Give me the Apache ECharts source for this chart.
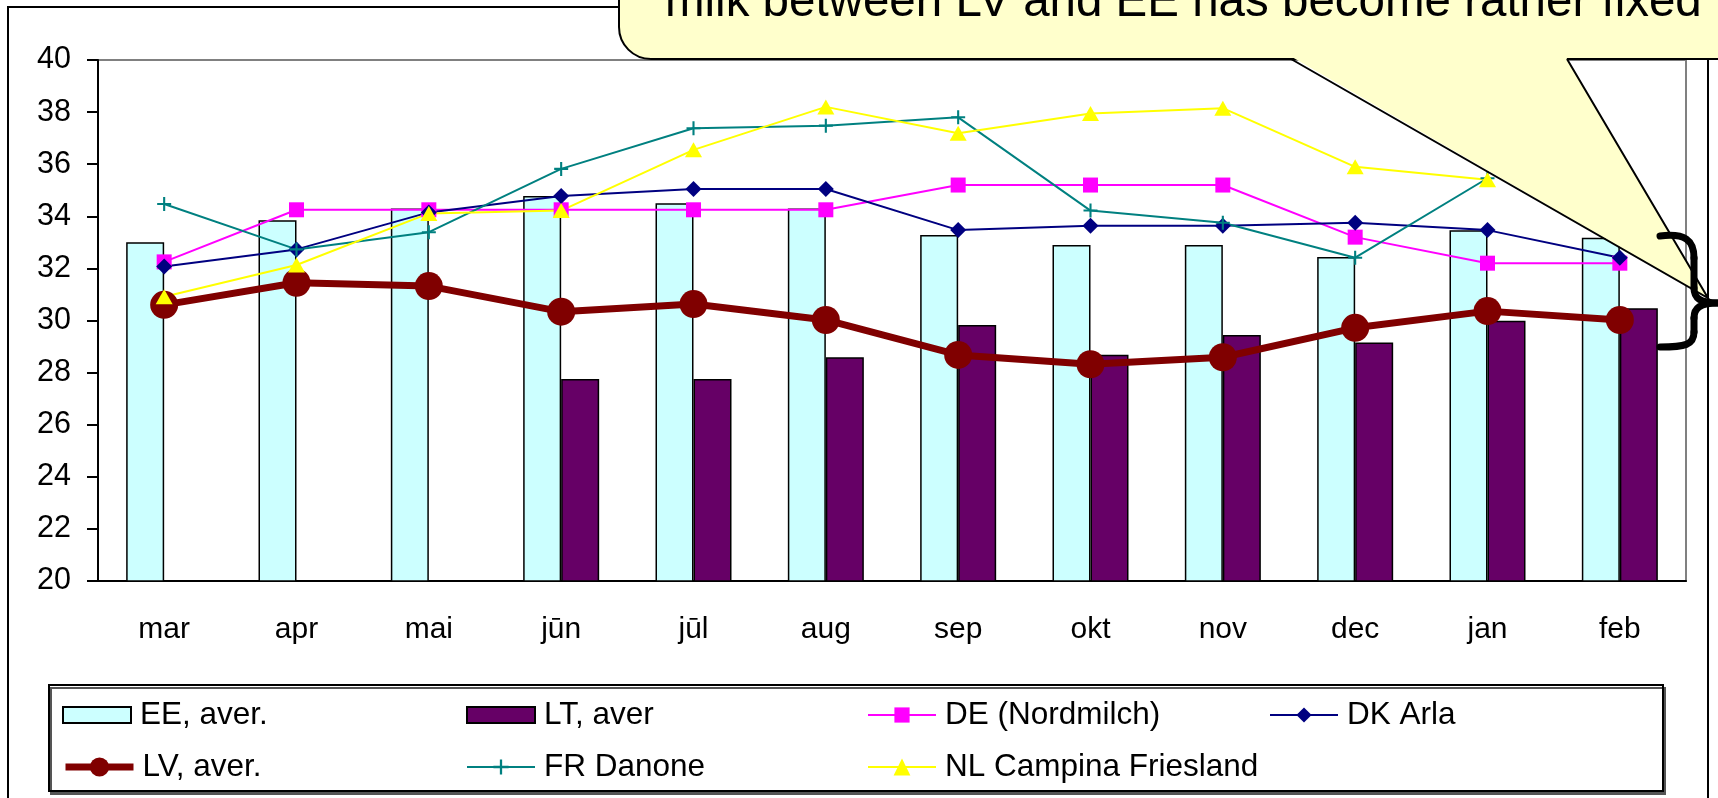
<!DOCTYPE html>
<html>
<head>
<meta charset="utf-8">
<style>
  html, body { margin: 0; padding: 0; background: #fff; }
  #chart { width: 1718px; height: 798px; }
</style>
<script src="https://cdn.jsdelivr.net/npm/echarts/dist/echarts.min.js"></script>
</head>
<body>
<div id="chart"></div>
<script>
// months on the x axis
const months = ['mar', 'apr', 'mai', 'jūn', 'jūl', 'aug', 'sep', 'okt', 'nov', 'dec', 'jan', 'feb'];

// bars
const eeAver = [33.0, 33.85, 34.3, 34.78, 34.5, 34.3, 33.28, 32.9, 32.9, 32.44, 33.46, 33.18];
const ltAver = [null, null, null, 27.75, 27.75, 28.59, 29.83, 28.69, 29.44, 29.16, 29.99, 30.47];

// lines
const deNordmilch = [32.25, 34.25, 34.25, 34.25, 34.25, 34.25, 35.2, 35.2, 35.2, 33.2, 32.2, 32.2];
const dkArla = [32.07, 32.73, 34.15, 34.78, 35.05, 35.05, 33.47, 33.64, 33.64, 33.75, 33.47, 32.41];
const lvAver = [30.6, 31.45, 31.32, 30.34, 30.63, 30.02, 28.68, 28.32, 28.59, 29.72, 30.36, 30.02];
// feb point of these two is under the callout
const frDanone = [34.47, 32.73, 33.39, 35.82, 37.38, 37.48, 37.8, 34.22, 33.75, 32.41, 35.46, null];
const nlCampina = [30.91, 32.13, 34.11, 34.22, 36.55, 38.2, 37.19, 37.95, 38.15, 35.9, 35.4, null];

const calloutText = 'milk between LV and EE has become rather fixed';

const FONT = '"Liberation Sans", Arial, sans-serif';
const PLUS = 'path://M17,0h6v17h17v6h-17v17h-6v-17h-17v-6h17z';

function lineSeries(name, data, color, symbol, size, width) {
  return {
    name: name,
    type: 'line',
    data: data,
    symbol: symbol,
    symbolSize: size,
    showAllSymbol: true,
    z: 3,
    lineStyle: { color: color, width: width },
    itemStyle: { color: color },
    emphasis: { disabled: true }
  };
}

function barSeries(name, data, color) {
  return {
    name: name,
    type: 'bar',
    data: data,
    barWidth: 38,
    barGap: '0%',
    itemStyle: { color: color, borderColor: '#000', borderWidth: 1.5 },
    emphasis: { disabled: true }
  };
}

// one legend per entry, so the columns line up like the original
function legendItem(name, left, top, h, lineWidth, icon) {
  const item = {
    data: [name],
    left: left,
    top: top,
    padding: 0,
    itemWidth: 68,
    itemHeight: h,
    selectedMode: false,
    textStyle: { fontFamily: FONT, fontSize: 31.5, color: '#000', padding: [0, 0, 0, 4] }
  };
  if (lineWidth) item.lineStyle = { width: lineWidth };
  if (icon) item.icon = icon;
  return item;
}

// pieces of the curly brace at the right edge
const braceStyle = { fill: 'none', stroke: '#000', lineWidth: 7, lineCap: 'round' };
function braceCurve(x1, y1, cpx1, cpy1, cpx2, cpy2, x2, y2) {
  return {
    type: 'bezierCurve', z: 102, silent: true,
    shape: { x1: x1, y1: y1, cpx1: cpx1, cpy1: cpy1, cpx2: cpx2, cpy2: cpy2, x2: x2, y2: y2 },
    style: braceStyle
  };
}
function braceLine(x1, y1, x2, y2) {
  return {
    type: 'line', z: 102, silent: true,
    shape: { x1: x1, y1: y1, x2: x2, y2: y2 },
    style: braceStyle
  };
}

const chart = echarts.init(document.getElementById('chart'));

chart.setOption({
  animation: false,
  textStyle: { fontFamily: FONT },
  grid: {
    left: 98, top: 60, right: 32, bottom: 217,
    show: true, borderColor: '#808080', borderWidth: 2
  },
  xAxis: {
    type: 'category',
    data: months,
    axisLine: { lineStyle: { color: '#000', width: 2 } },
    axisTick: { length: 11, lineStyle: { color: '#000', width: 2 } },
    axisLabel: { color: '#000', fontSize: 30, margin: 34 }
  },
  yAxis: {
    type: 'value',
    min: 20,
    max: 40,
    interval: 2,
    splitLine: { show: false },
    axisLine: { show: true, lineStyle: { color: '#000', width: 2 } },
    axisTick: { show: true, length: 11, lineStyle: { color: '#000', width: 2 } },
    axisLabel: { color: '#000', fontSize: 30.5, margin: 27 }
  },
  legend: [
    legendItem('EE, aver.', 62, 699, 16, 0, 'rect'),
    legendItem('LT, aver', 466, 699, 16, 0, 'rect'),
    legendItem('DE (Nordmilch)', 867, 699, 19, 2),
    legendItem('DK Arla', 1269, 699, 19, 2),
    legendItem('LV, aver.', 62, 751, 24, 7),
    legendItem('FR Danone', 466, 751, 19, 2),
    legendItem('NL Campina Friesland', 867, 751, 21, 2)
  ],
  series: [
    barSeries('EE, aver.', eeAver, '#CCFFFF'),
    barSeries('LT, aver', ltAver, '#660066'),
    lineSeries('DE (Nordmilch)', deNordmilch, '#FF00FF', 'rect', 15, 2),
    lineSeries('DK Arla', dkArla, '#000080', 'diamond', 16, 2),
    lineSeries('LV, aver.', lvAver, '#800000', 'circle', 28, 7),
    lineSeries('FR Danone', frDanone, '#008080', PLUS, 14, 2),
    lineSeries('NL Campina Friesland', nlCampina, '#FFFF00', 'triangle', [17, 15], 2)
  ],
  graphic: [
    // outer chart frame
    {
      type: 'rect', z: 0, silent: true,
      shape: { x: 8, y: 7, width: 1700, height: 830 },
      style: { fill: 'none', stroke: '#000', lineWidth: 2 }
    },
    // legend box
    {
      type: 'rect', z: 1, silent: true,
      shape: { x: 49, y: 685, width: 1614, height: 106 },
      style: {
        fill: '#fff', stroke: '#000', lineWidth: 2,
        shadowColor: '#555', shadowOffsetX: 2, shadowOffsetY: 3, shadowBlur: 0
      }
    },
    // callout bubble: box, pointer fill, pointer edges
    {
      type: 'rect', z: 100, silent: true,
      shape: { x: 619, y: -60, width: 1200, height: 119, r: [0, 0, 0, 32] },
      style: { fill: '#FFFFCC', stroke: '#000', lineWidth: 2 }
    },
    {
      type: 'polygon', z: 100, silent: true,
      shape: { points: [[1292, 57], [1708, 298], [1566, 57]] },
      style: { fill: '#FFFFCC' }
    },
    {
      type: 'polyline', z: 100, silent: true,
      shape: { points: [[1291, 59], [1708, 298], [1567, 59]] },
      style: { fill: 'none', stroke: '#000', lineWidth: 2 }
    },
    {
      type: 'text', z: 101, silent: true,
      x: 665, y: 3,
      style: {
        text: calloutText,
        font: '47.5px ' + FONT,
        fill: '#000',
        align: 'left',
        verticalAlign: 'middle'
      }
    },
    // brace
    braceCurve(1660, 236, 1685, 233, 1694, 240, 1694, 258),
    braceLine(1694, 258, 1694, 288),
    braceCurve(1694, 288, 1694, 298, 1700, 303, 1718, 303),
    braceCurve(1718, 303, 1700, 303, 1694, 308, 1694, 318),
    braceLine(1694, 318, 1694, 332),
    braceCurve(1694, 332, 1694, 345, 1685, 347, 1660, 347)
  ]
});
</script>
</body>
</html>
